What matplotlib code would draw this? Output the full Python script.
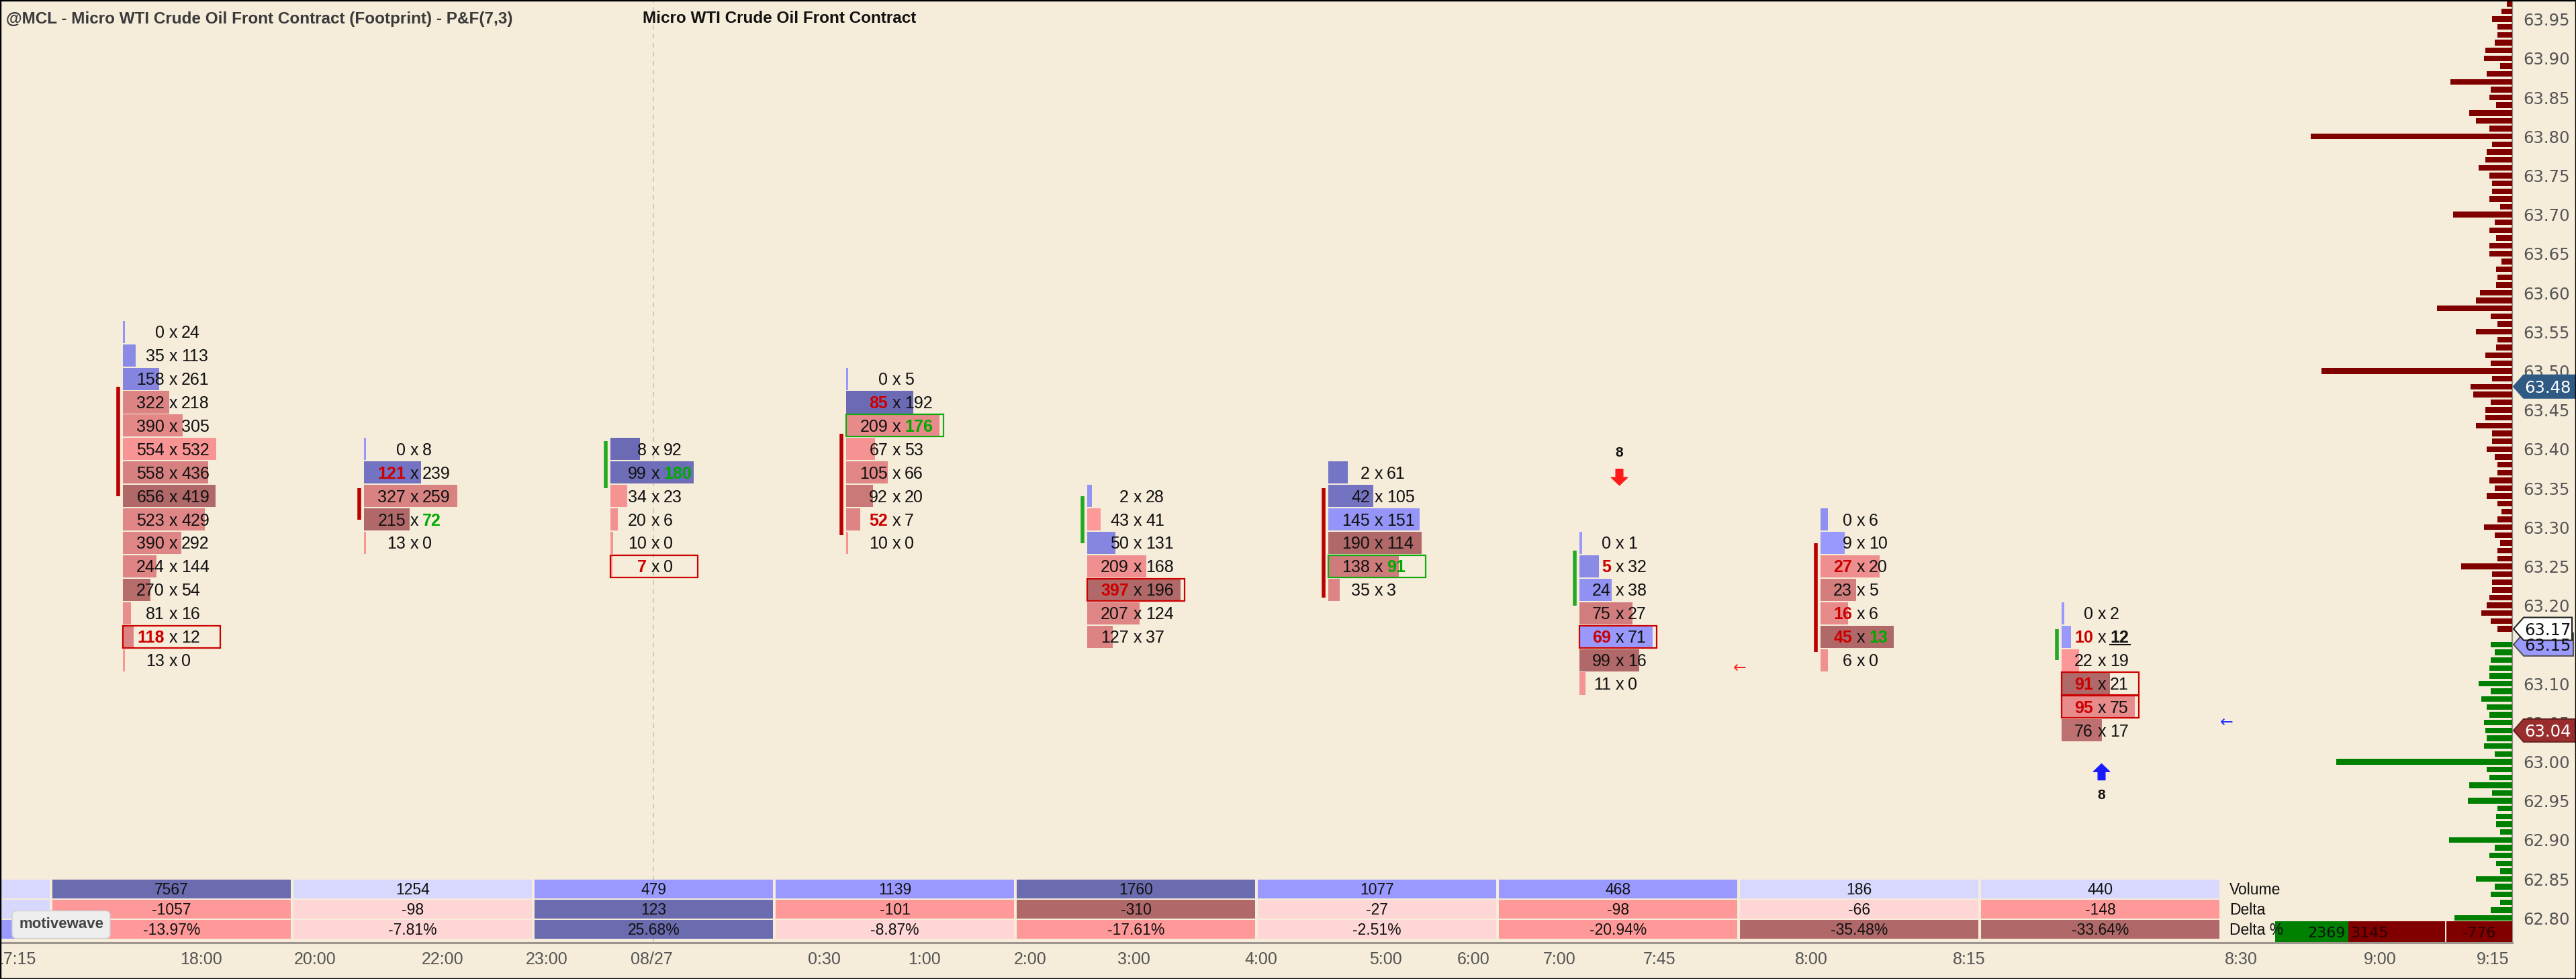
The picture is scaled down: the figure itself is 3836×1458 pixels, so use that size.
import numpy as np
import matplotlib
matplotlib.use("Agg")
import matplotlib.pyplot as plt
import matplotlib.transforms as mtransforms
from matplotlib.patches import Rectangle, Polygon, FancyArrowPatch
from matplotlib.ticker import MultipleLocator, FormatStrFormatter

# ---------------- data ----------------
# footprint columns: price of the top row, then bid x ask per row (top row first), rows are 3 ticks
col_top = [63.55, 63.40, 63.40, 63.49, 63.34, 63.37, 63.28, 63.31, 63.19]
col_bid = [
    [0, 35, 158, 322, 390, 554, 558, 656, 523, 390, 244, 270, 81, 118, 13],
    [0, 121, 327, 215, 13],
    [8, 99, 34, 20, 10, 7],
    [0, 85, 209, 67, 105, 92, 52, 10],
    [2, 43, 50, 209, 397, 207, 127],
    [2, 42, 145, 190, 138, 35],
    [0, 5, 24, 75, 69, 99, 11],
    [0, 9, 27, 23, 16, 45, 6],
    [0, 10, 22, 91, 95, 76],
]
col_ask = [
    [24, 113, 261, 218, 305, 532, 436, 419, 429, 292, 144, 54, 16, 12, 0],
    [8, 239, 259, 72, 0],
    [92, 180, 23, 6, 0, 0],
    [5, 192, 176, 53, 66, 20, 7, 0],
    [28, 41, 131, 168, 196, 124, 37],
    [61, 105, 151, 114, 91, 3],
    [1, 32, 38, 27, 71, 16, 0],
    [6, 10, 20, 5, 6, 13, 0],
    [2, 12, 19, 21, 75, 17],
]
col_open = [63.48, 63.35, 63.35, 63.42, 63.28, 63.35, 63.20, 63.28, 63.13]
col_close = [63.34, 63.31, 63.41, 63.29, 63.34, 63.21, 63.27, 63.14, 63.17]

# imbalance highlights (row indices) and outlined rows
bid_imb = [[13], [1], [5], [1, 6], [4], [], [1, 4], [2, 4, 5], [1, 3, 4]]
ask_imb = [[], [3], [1], [2], [], [4], [], [5], []]
boxed = [(0, 13, 'bid'), (2, 5, 'bid'), (3, 2, 'ask'), (4, 4, 'bid'),
         (5, 4, 'ask'), (6, 4, 'bid'), (8, 3, 'bid'), (8, 4, 'bid')]
last_trade = (8, 1)

# reversal signals
signal_col = [6, 8]
signal_dir = ['down', 'up']
signal_price = [63.364, 62.987]
signal_count = ['8', '8']

# small pointer arrows
pointer_x = [7.0, 9.02]
pointer_price = [63.12, 63.05]
pointer_side = ['sell', 'buy']

# summary table shading tiers (0 light, 1 medium, 2 dark)
vol_tier = [2, 0, 1, 1, 2, 1, 1, 0, 0]
delta_tier = [1, 0, 2, 1, 2, 0, 1, 0, 1]
prev_tiers = [0, 0, 1]  # column cut off at the left edge (positive delta)

# time axis
time_labels = ['17:15', '18:00', '20:00', '22:00', '23:00', '08/27', '0:30', '1:00',
               '2:00', '3:00', '4:00', '5:00', '6:00', '7:00', '7:45', '8:00',
               '8:15', '8:30', '9:00', '9:15']
time_pos = [-0.156, 0.618, 1.089, 1.618, 2.050, 2.485, 3.201, 3.616, 4.056, 4.485,
            5.014, 5.529, 5.894, 6.250, 6.666, 7.297, 7.950, 9.079, 9.655, 10.123]
day_break = 2.493

# market depth on the right: asks from 63.97 down, bids from 63.15 down
depth_ask_top = 63.97
depth_ask = [4, 8, 15, 11, 11, 13, 20, 21, 9, 19, 46, 16, 17, 12, 32, 27, 17, 150, 15, 19,
             20, 25, 17, 15, 15, 17, 9, 44, 13, 17, 12, 17, 17, 8, 12, 11, 12, 24, 27, 56,
             16, 11, 27, 11, 12, 20, 16, 142, 15, 31, 29, 16, 20, 20, 27, 15, 15, 19, 13, 11,
             11, 17, 13, 19, 11, 8, 11, 21, 13, 9, 11, 11, 38, 15, 15, 15, 17, 19, 23, 16, 11]
depth_bid_top = 63.15
depth_bid = [16, 13, 16, 17, 17, 25, 16, 23, 19, 17, 21, 20, 19, 21, 13, 131, 19, 17, 32, 15,
             33, 11, 12, 12, 9, 47, 13, 17, 12, 9, 27, 13, 16, 9, 16, 43]
depth_bid_total = 2369
depth_ask_total = 3145

tag_prices = [63.48, 63.15, 63.17, 63.04]

title_main = '@MCL - Micro WTI Crude Oil Front Contract (Footprint) - P&F(7,3)'
title_inst = 'Micro WTI Crude Oil Front Contract'

# ---------------- layout ----------------
BG = '#f5ecda'
W, H = 3836, 1458
AX_R, AX_B = 3741, 1404
COL_PX = 359.0
plt.rcParams['font.family'] = ['DejaVu Sans']
NARROW = ['Liberation Sans', 'DejaVu Sans']

fig = plt.figure(figsize=(W / 100, H / 100), dpi=100, facecolor=BG)
ax = fig.add_axes([0, (H - AX_B) / H, AX_R / W, AX_B / H], facecolor=BG)
x0 = -78 / COL_PX
ax.set_xlim(x0, x0 + AX_R / COL_PX)
ax.set_ylim(62.7684, 63.9746)
PXX = (ax.get_xlim()[1] - ax.get_xlim()[0]) / AX_R
PXY = (ax.get_ylim()[1] - ax.get_ylim()[0]) / AX_B
XR = ax.get_xlim()[1]

for s in ['top', 'left']:
    ax.spines[s].set_visible(False)
ax.spines['right'].set_color('#8c8c8c')
ax.spines['right'].set_linewidth(1.6)
ax.spines['bottom'].set_color('#9c968e')
ax.spines['bottom'].set_linewidth(2.2)

ax.yaxis.tick_right()
ax.yaxis.set_major_locator(MultipleLocator(0.05))
ax.yaxis.set_major_formatter(FormatStrFormatter('%.2f'))
ax.tick_params(axis='y', length=0, pad=12, labelsize=17.5, labelcolor='#555555')
ax.set_xticks(time_pos)
ax.set_xticklabels(time_labels, fontfamily=NARROW, fontsize=18, color='#555555')
ax.tick_params(axis='x', length=0, pad=9)

ax.axvline(day_break, color='#c9c1b3', ls=(0, (4, 4)), lw=1.2, zorder=1)

RED_L, RED_D = np.array([255, 153, 153]) / 255, np.array([176, 104, 104]) / 255
BLU_L, BLU_D = np.array([153, 153, 255]) / 255, np.array([107, 107, 181]) / 255
ROW = 0.03
FP_FS = 18
cap = 0.716 * FP_FS * 100 / 72

# ---------------- footprint ----------------
for c in range(len(col_top)):
    bids, asks = col_bid[c], col_ask[c]
    tot = [b + a for b, a in zip(bids, asks)]
    dmax = max(abs(a - b) for b, a in zip(bids, asks))
    wpx = 15.5 * max(len(f'{b} x {a}') for b, a in zip(bids, asks))
    xc = c + 0.5
    left = xc - (wpx / 2 + 5) * PXX
    for i, (b, a) in enumerate(zip(bids, asks)):
        y = col_top[c] - ROW * i
        t = abs(a - b) / dmax
        fc = BLU_L + (BLU_D - BLU_L) * t if a > b else RED_L + (RED_D - RED_L) * t
        bw = max(tot[i] / max(tot) * wpx, 3.5) * PXX
        ax.add_patch(Rectangle((left, y - 0.0142), bw, 0.0284, fc=fc, ec='none', zorder=3))
        yb = y - cap / 2 * PXY
        bb = i in bid_imb[c]
        ab = i in ask_imb[c]
        lt = (c, i) == last_trade
        ax.text(xc - 12.5 * PXX, yb, str(b), ha='right', va='baseline', family=NARROW,
                fontsize=FP_FS, color='#cc0000' if bb else '#111111',
                fontweight='bold' if bb else 'normal', zorder=6)
        ax.text(xc, yb, 'x', ha='center', va='baseline', family=NARROW,
                fontsize=FP_FS, color='#111111', zorder=6)
        ax.text(xc + 12.5 * PXX, yb, str(a), ha='left', va='baseline', family=NARROW,
                fontsize=FP_FS, color='#00aa00' if ab else '#111111',
                fontweight='bold' if (ab or lt) else 'normal', zorder=6)
        if lt:
            ax.plot([xc + 12.5 * PXX, xc + 42 * PXX], [yb - 3 * PXY] * 2,
                    color='#111111', lw=1.5, zorder=6)
    for (bc, br, side) in boxed:
        if bc == c:
            yy = col_top[c] - ROW * br
            ax.add_patch(Rectangle((left, yy - 0.0142), (wpx + 6) * PXX, 0.0284, fill=False,
                                   ec='#cc0000' if side == 'bid' else '#11aa11', lw=1.6, zorder=5))
    up = col_close[c] > col_open[c]
    ax.plot([left - 7 * PXX] * 2, [col_open[c], col_close[c]],
            color='#22aa22' if up else '#bb0000', lw=4, solid_capstyle='butt', zorder=4)

# reversal signals
for c, d, p, n in zip(signal_col, signal_dir, signal_price, signal_count):
    xc = c + 0.5
    half = 12 * PXY
    if d == 'down':
        tail, tip, ly, col = p + half, p - half, p + 0.031, '#ff1a1a'
    else:
        tail, tip, ly, col = p - half, p + half, p - 0.030, '#1a1aff'
    ax.add_patch(FancyArrowPatch((xc, tail), (xc, tip), shrinkA=0, shrinkB=0,
                                 arrowstyle='simple,head_length=0.6,head_width=1.25,tail_width=0.55',
                                 mutation_scale=14, color=col, zorder=6))
    ax.text(xc, ly, n, ha='center', va='center', fontsize=15, fontweight='bold',
            family=NARROW, color='#111111', zorder=6)

for x, p, s in zip(pointer_x, pointer_price, pointer_side):
    ax.text(x, p, '\u2190', ha='center', va='center', fontsize=17,
            color='#ff2222' if s == 'sell' else '#2233ff', zorder=6)

# ---------------- market depth ----------------
for i, v in enumerate(depth_ask):
    p = round(depth_ask_top - 0.01 * i, 2)
    ax.add_patch(Rectangle((XR - v * 2 * PXX, p - 0.0036), v * 2 * PXX, 0.0072,
                           fc='#800000', ec='none', zorder=3))
for i, v in enumerate(depth_bid):
    p = round(depth_bid_top - 0.01 * i, 2)
    ax.add_patch(Rectangle((XR - v * 2 * PXX, p - 0.0036), v * 2 * PXX, 0.0072,
                           fc='#008000', ec='none', zorder=3))

# ---------------- summary table ----------------
trT = mtransforms.blended_transform_factory(ax.transData, ax.transAxes)
BLUES = ['#d8d8ff', '#9999ff', '#6b6bb0']
REDS = ['#ffd6d6', '#ff9999', '#b06868']
ROW_TOP = [1310, 1340, 1370]
ROW_H = 27.7
TB_FS = 16.5
tcap = 0.716 * TB_FS * 100 / 72


def yfrac(px):
    return (AX_B - px) / AX_B


def cell(x, r, color, txt=None):
    y = yfrac(ROW_TOP[r] + ROW_H)
    ax.add_patch(Rectangle((x, y), 355 / COL_PX, ROW_H / AX_B, transform=trT,
                           fc=color, ec='none', zorder=7, clip_on=True))
    if txt is not None:
        ax.text(x + 0.5 * 355 / COL_PX, yfrac(ROW_TOP[r] + ROW_H / 2 + tcap / 2), txt,
                transform=trT, ha='center', va='baseline', family=NARROW,
                fontsize=TB_FS, color='#111111', zorder=8)


cell(-1, 0, BLUES[prev_tiers[0]])
cell(-1, 1, BLUES[prev_tiers[1]])
cell(-1, 2, BLUES[prev_tiers[2]])
for c in range(len(col_top)):
    vol = sum(col_bid[c]) + sum(col_ask[c])
    delta = sum(col_ask[c]) - sum(col_bid[c])
    pct = delta / vol * 100
    shades = BLUES if delta > 0 else REDS
    ptier = 0 if abs(pct) < 10 else (1 if abs(pct) < 25 else 2)
    cell(c, 0, BLUES[vol_tier[c]], f'{vol}')
    cell(c, 1, shades[delta_tier[c]], f'{delta}')
    cell(c, 2, shades[ptier], f'{pct:.2f}%')

for r, lab in enumerate(['Volume', 'Delta', 'Delta %']):
    ax.text(9.03, yfrac(ROW_TOP[r] + ROW_H / 2 + tcap / 2), lab, transform=trT, ha='left',
            va='baseline', family=NARROW, fontsize=TB_FS, color='#111111', zorder=8)

# depth totals strip
gx0 = x0 + 3388 * PXX
span = 253 * PXX
gw = depth_bid_total / (depth_bid_total + depth_ask_total) * span
ys, hs = yfrac(1403), 31 / AX_B
ax.add_patch(Rectangle((gx0, ys), gw, hs, transform=trT, fc='#008000', ec='none', zorder=7))
ax.add_patch(Rectangle((gx0 + gw, ys), span - gw, hs, transform=trT, fc='#800000', ec='none', zorder=7))
dx = gx0 + span + 2 * PXX
ax.add_patch(Rectangle((dx, ys), XR - dx, hs, transform=trT, fc='#800000', ec='none', zorder=7))
ty = yfrac(1387.5 + 8)
ax.text(gx0 + gw - 4 * PXX, ty, f'{depth_bid_total}', transform=trT, ha='right', va='baseline',
        fontsize=16, color='#111111', zorder=8)
ax.text(gx0 + gw + 4 * PXX, ty, f'{depth_ask_total}', transform=trT, ha='left', va='baseline',
        fontsize=16, color='#2a0000', zorder=8)
ax.text((dx + XR) / 2, ty, f'{depth_bid_total - depth_ask_total}', transform=trT, ha='center',
        va='baseline', fontsize=16, color='#2a0000', zorder=8)

# ---------------- price tags on the axis ----------------
trP = mtransforms.blended_transform_factory(fig.transFigure, ax.transData)
tag_style = [('#2f5a84', '#2f5a84', 'white', 3835),
             ('#9a9aff', '#555555', '#111111', 3832),
             ('white', '#222222', '#111111', 3830),
             ('#9a2e2e', '#6a2020', 'white', 3835)]
for p, (fc, ec, tc, rgt) in zip(tag_prices, tag_style):
    hh = 17 * PXY
    xs = np.array([3743, 3758, rgt, rgt, 3758]) / W
    ysv = [p, p + hh, p + hh, p - hh, p - hh]
    fig.add_artist(Polygon(np.column_stack([xs, ysv]), closed=True, fc=fc, ec=ec, lw=1.5,
                           transform=trP, zorder=20))
    fig.add_artist(plt.Text(3758 / W + 1 / W, p, f'{p:.2f}', transform=trP, ha='left',
                            va='center_baseline', fontsize=17.5, color=tc, zorder=21))

# ---------------- titles, badge, frame ----------------
fig.text(9 / W, 1 - 28 / H, title_main, ha='left', va='center', family=NARROW,
         fontsize=17.5, fontweight='bold', color='#3a3a3a')
fig.text(957 / W, 1 - 28 / H, title_inst, ha='left', va='center', family=NARROW,
         fontsize=17.5, fontweight='bold', color='#111111')
fig.text(91 / W, 1 - 1377 / H, 'motivewave', ha='center', va='center', family=NARROW,
         fontsize=16, fontweight='bold', color='#444444', zorder=30,
         bbox=dict(boxstyle='round,pad=0.45,rounding_size=0.3', fc='#eeeeee', ec='#cfcfcf', lw=1))
fig.add_artist(Rectangle((0, 0), 1, 1, transform=fig.transFigure, fill=False,
                         ec='black', lw=2.5, zorder=40))

fig.savefig('out.png', dpi=100, facecolor=BG)
